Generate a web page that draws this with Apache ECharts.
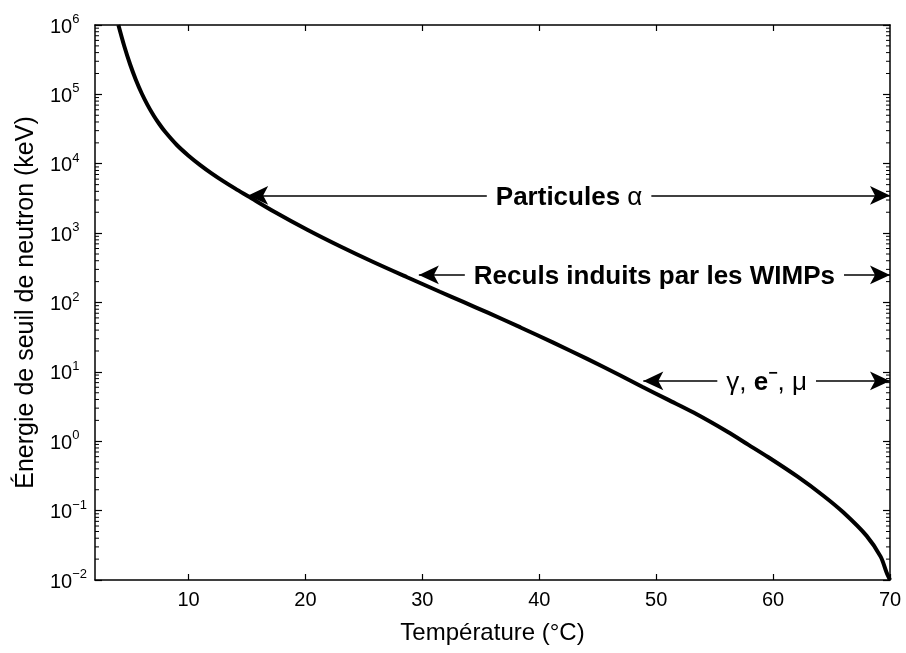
<!DOCTYPE html>
<html>
<head>
<meta charset="utf-8">
<script src="https://cdn.jsdelivr.net/npm/echarts@6/dist/echarts.min.js"></script>
<style>
  html, body { margin: 0; padding: 0; background: #ffffff; }
  #chart { width: 906px; height: 653px; }
</style>
</head>
<body>
<div id="chart"></div>
<script>
// Seuil en énergie des neutrons en fonction de la température
const temperature = [4.0, 4.5, 5.0, 5.5, 6.0, 6.5, 7.0, 7.5, 8.0, 9.0, 10.0, 11.0, 12.0, 13.0, 14.0,
  15.1, 17.3, 20.2, 23.0, 25.8, 28.7, 31.5, 33.5, 35.6, 38.4, 41.2, 44.1, 46.9, 48.8, 51.0,
  53.2, 56.1, 57.9, 59.6, 62.1, 64.3, 66.0, 68.0, 69.2, 69.7, 70.0];
const energyKeV = [1000000, 498000, 272000, 161400, 103000, 70000, 50100, 37400, 28840, 18620, 13060,
  9570, 7210, 5570, 4375, 3400, 2051, 1109, 641, 383, 231, 143, 101.9, 71.3, 43.7, 26.4, 15.4,
  8.95, 6.12, 3.98, 2.59, 1.37, 0.887, 0.587, 0.308, 0.164, 0.0946, 0.0433, 0.0217, 0.0129, 0.01];

// Axes
const xTicks = [10, 20, 30, 40, 50, 60, 70];
const xTopTicks = [10, 20, 30, 40, 50, 60];
const yTicks = [0.01, 0.1, 1, 10, 100, 1000, 10000, 100000, 1000000];
const yExponents = ['\u22122', '\u22121', '0', '1', '2', '3', '4', '5', '6'];
const xRange = [2, 70];
const yRange = [0.01, 1000000];

// Domaines de sensibilité (début en °C, fin en °C, niveau en keV)
const bandLabels = ['alpha', 'wimps', 'gamma'];
const bandStart = [15.1, 29.7, 48.9];
const bandEnd = [70, 70, 70];
const bandLevel = [3500, 250, 7.4];

// Graduations secondaires logarithmiques (2…9 × 10^n)
const minorValues = [];
for (let i = 0; i < yTicks.length - 1; i++) {
  for (let k = 2; k <= 9; k++) minorValues.push(k * yTicks[i]);
}

const FONT = '"Liberation Sans", Arial, Helvetica, sans-serif';

const bandFormatters = {
  alpha: '{b|Particules }{g|\u03b1}',
  wimps: '{b|Reculs induits par les WIMPs}',
  gamma: '{g|\u03b3, }{b|e}{sup|\u2212}{g|, \u03bc}'
};

const bandRich = {
  b: { fontFamily: FONT, fontSize: 26, fontWeight: 'bold', color: '#000', lineHeight: 30, verticalAlign: 'bottom' },
  g: { fontFamily: FONT, fontSize: 26, fontWeight: 'normal', color: '#000', lineHeight: 30, verticalAlign: 'bottom' },
  sup: { fontFamily: FONT, fontSize: 16, fontWeight: 'bold', color: '#000', lineHeight: 30, verticalAlign: 'top' }
};

const markData = bandLabels.map((key, i) => [
  {
    coord: [bandStart[i], bandLevel[i]],
    label: {
      show: true,
      position: 'insideMiddle',
      distance: 0,
      formatter: bandFormatters[key],
      backgroundColor: '#ffffff',
      padding: [0, 9],
      rich: bandRich
    }
  },
  { coord: [bandEnd[i], bandLevel[i]] }
]);

const axisLineStyle = { color: '#000', width: 1.5 };

const chart = echarts.init(document.getElementById('chart'), null, { renderer: 'canvas' });

chart.setOption({
  animation: false,
  backgroundColor: '#ffffff',
  grid: { left: 95, right: 16, top: 25, bottom: 73, containLabel: false },
  xAxis: [
    {
      type: 'value',
      min: xRange[0],
      max: xRange[1],
      position: 'bottom',
      name: 'Température (°C)',
      nameLocation: 'middle',
      nameGap: 41,
      nameTextStyle: { fontFamily: FONT, fontSize: 24, color: '#000' },
      axisLine: { show: true, onZero: false, lineStyle: axisLineStyle },
      axisTick: { show: true, inside: true, length: 6, lineStyle: { color: '#000', width: 1.2 }, customValues: xTicks },
      axisLabel: { show: true, margin: 10, fontFamily: FONT, fontSize: 20, color: '#000', customValues: xTicks },
      splitLine: { show: false }
    },
    {
      type: 'value',
      min: xRange[0],
      max: xRange[1],
      position: 'top',
      axisLine: { show: true, onZero: false, lineStyle: axisLineStyle },
      axisTick: { show: true, inside: true, length: 6, lineStyle: { color: '#000', width: 1.2 }, customValues: xTopTicks },
      axisLabel: { show: false },
      splitLine: { show: false }
    }
  ],
  yAxis: [
    {
      type: 'log',
      logBase: 10,
      min: yRange[0],
      max: yRange[1],
      position: 'left',
      name: 'Énergie de seuil de neutron (keV)',
      nameLocation: 'middle',
      nameGap: 56,
      nameTextStyle: { fontFamily: FONT, fontSize: 25, color: '#000' },
      axisLine: { show: true, onZero: false, lineStyle: axisLineStyle },
      axisTick: { show: true, inside: true, length: 7, lineStyle: { color: '#000', width: 1.2 }, customValues: yTicks },
      axisLabel: {
        show: true,
        margin: 45,
        align: 'left',
        customValues: yTicks,
        formatter: function (v) {
          const idx = yTicks.findIndex(t => Math.abs(Math.log10(t) - Math.log10(v)) < 1e-6);
          return '{b|10}{s|' + yExponents[idx] + '}';
        },
        rich: {
          b: { fontFamily: FONT, fontSize: 20, color: '#000', lineHeight: 24, verticalAlign: 'bottom' },
          s: { fontFamily: FONT, fontSize: 13, color: '#000', lineHeight: 24, verticalAlign: 'top' }
        }
      },
      splitLine: { show: false }
    },
    {
      type: 'log',
      logBase: 10,
      min: yRange[0],
      max: yRange[1],
      position: 'right',
      axisLine: { show: true, onZero: false, lineStyle: axisLineStyle },
      axisTick: { show: true, inside: true, length: 7, lineStyle: { color: '#000', width: 1.2 }, customValues: yTicks },
      axisLabel: { show: false },
      splitLine: { show: false }
    }
  ],
  series: [
    {
      name: 'minorTicks',
      type: 'custom',
      silent: true,
      clip: false,
      xAxisIndex: 0,
      yAxisIndex: 0,
      encode: { x: 0, y: 1 },
      data: minorValues.map(v => [xRange[0], v]),
      renderItem: function (params, api) {
        const v = api.value(1);
        const left = api.coord([xRange[0], v]);
        const right = api.coord([xRange[1], v]);
        const style = { stroke: '#000', lineWidth: 1 };
        return {
          type: 'group',
          children: [
            { type: 'line', shape: { x1: left[0], y1: left[1], x2: left[0] + 4, y2: left[1] }, style: style },
            { type: 'line', shape: { x1: right[0], y1: right[1], x2: right[0] - 4, y2: right[1] }, style: style }
          ]
        };
      }
    },
    {
      name: 'seuil',
      type: 'line',
      xAxisIndex: 0,
      yAxisIndex: 0,
      data: temperature.map((t, i) => [t, energyKeV[i]]),
      showSymbol: false,
      smooth: 0.3,
      lineStyle: { color: '#000', width: 4 },
      silent: true,
      markLine: {
        silent: true,
        symbol: ['arrow', 'arrow'],
        symbolSize: [14, 20],
        lineStyle: { color: '#000', width: 1.5, type: 'solid' },
        emphasis: { disabled: true },
        data: markData
      }
    }
  ]
});
</script>
</body>
</html>
